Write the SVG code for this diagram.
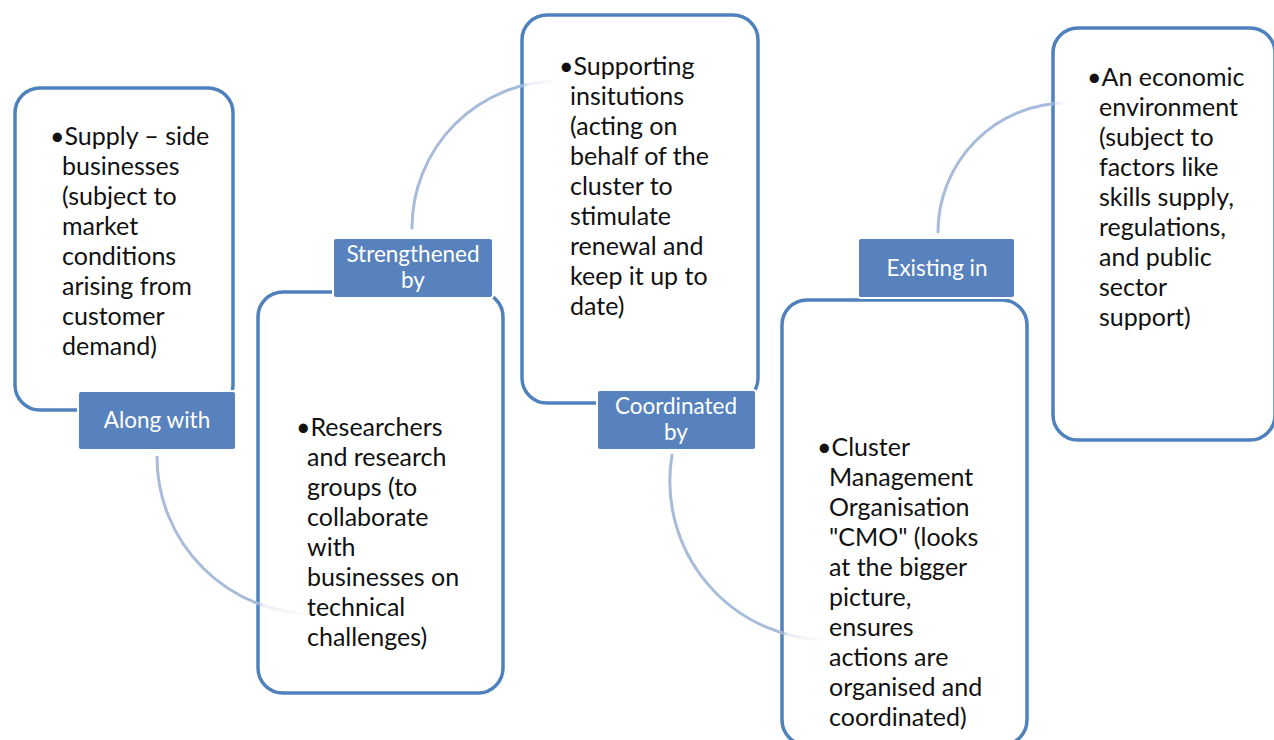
<svg xmlns="http://www.w3.org/2000/svg" width="1274" height="740" viewBox="0 0 1274 740">
  <style>
    .box { fill: #ffffff; stroke: #4f81bd; stroke-width: 3.5; }
    .label { fill: #5882be; stroke: #ffffff; stroke-width: 2; }
    .body { font-family: Lato, "Open Sans", sans-serif; font-size: 25px; fill: #111111; }
    .lbl { font-family: Lato, "Open Sans", sans-serif; font-size: 22.5px; fill: #ffffff; text-anchor: middle; }
    .arc { fill: none; stroke-width: 3; stroke-linecap: round; }
  </style>
  <defs>
    <linearGradient id="fade1" gradientUnits="userSpaceOnUse" x1="157" y1="0" x2="314" y2="0">
      <stop offset="0" stop-color="#a7bbdb" stop-opacity="1"/>
      <stop offset="0.63" stop-color="#a7bbdb" stop-opacity="1"/>
      <stop offset="0.68" stop-color="#a7bbdb" stop-opacity="0.25"/>
      <stop offset="1" stop-color="#a7bbdb" stop-opacity="0"/>
    </linearGradient>
    <linearGradient id="fade2" gradientUnits="userSpaceOnUse" x1="412" y1="0" x2="559" y2="0">
      <stop offset="0" stop-color="#a7bbdb" stop-opacity="1"/>
      <stop offset="0.74" stop-color="#a7bbdb" stop-opacity="1"/>
      <stop offset="0.79" stop-color="#a7bbdb" stop-opacity="0.25"/>
      <stop offset="1" stop-color="#a7bbdb" stop-opacity="0"/>
    </linearGradient>
    <linearGradient id="fade3" gradientUnits="userSpaceOnUse" x1="672" y1="0" x2="829" y2="0">
      <stop offset="0" stop-color="#a7bbdb" stop-opacity="1"/>
      <stop offset="0.69" stop-color="#a7bbdb" stop-opacity="1"/>
      <stop offset="0.74" stop-color="#a7bbdb" stop-opacity="0.25"/>
      <stop offset="1" stop-color="#a7bbdb" stop-opacity="0"/>
    </linearGradient>
    <linearGradient id="fade4" gradientUnits="userSpaceOnUse" x1="938" y1="0" x2="1067" y2="0">
      <stop offset="0" stop-color="#a7bbdb" stop-opacity="1"/>
      <stop offset="0.88" stop-color="#a7bbdb" stop-opacity="1"/>
      <stop offset="0.92" stop-color="#a7bbdb" stop-opacity="0.25"/>
      <stop offset="1" stop-color="#a7bbdb" stop-opacity="0"/>
    </linearGradient>
  </defs>

  <rect width="1274" height="740" fill="#ffffff"/>

  <!-- Supply-side businesses -->
  <g id="node-supply">
    <rect class="box" x="15" y="88" width="218" height="322" rx="25"/>
    <text class="body" x="50" y="145">•Supply – side</text>
    <text class="body" x="62" y="175">businesses</text>
    <text class="body" x="62" y="205">(subject to</text>
    <text class="body" x="62" y="235">market</text>
    <text class="body" x="62" y="265">conditions</text>
    <text class="body" x="62" y="295">arising from</text>
    <text class="body" x="62" y="325">customer</text>
    <text class="body" x="62" y="355">demand)</text>
  </g>
  <g id="label-along">
    <rect class="label" x="78" y="391" width="158" height="59" rx="3"/>
    <text class="lbl" x="157" y="428">Along with</text>
  </g>

  <!-- Researchers -->
  <g id="node-research">
    <rect class="box" x="258" y="292" width="245" height="401" rx="25"/>
    <text class="body" x="296" y="436">•Researchers</text>
    <text class="body" x="307" y="466">and research</text>
    <text class="body" x="307" y="496">groups (to</text>
    <text class="body" x="307" y="526">collaborate</text>
    <text class="body" x="307" y="556">with</text>
    <text class="body" x="307" y="586">businesses on</text>
    <text class="body" x="307" y="616">technical</text>
    <text class="body" x="307" y="646">challenges)</text>
  </g>
  <g id="label-strengthened">
    <rect class="label" x="333" y="238" width="160" height="60" rx="3"/>
    <text class="lbl" x="413" y="262">Strengthened</text>
    <text class="lbl" x="413" y="288">by</text>
  </g>

  <!-- Supporting institutions -->
  <g id="node-supporting">
    <rect class="box" x="522" y="15" width="236" height="388" rx="25"/>
    <text class="body" x="559" y="75">•Supporting</text>
    <text class="body" x="570" y="105">insitutions</text>
    <text class="body" x="570" y="135">(acting on</text>
    <text class="body" x="570" y="165">behalf of the</text>
    <text class="body" x="570" y="195">cluster to</text>
    <text class="body" x="570" y="225">stimulate</text>
    <text class="body" x="570" y="255">renewal and</text>
    <text class="body" x="570" y="285">keep it up to</text>
    <text class="body" x="570" y="315">date)</text>
  </g>
  <g id="label-coordinated">
    <rect class="label" x="597" y="390" width="159" height="60" rx="3"/>
    <text class="lbl" x="676" y="414">Coordinated</text>
    <text class="lbl" x="676" y="440">by</text>
  </g>

  <!-- Cluster Management Organisation -->
  <g id="node-cmo">
    <rect class="box" x="782" y="300" width="245" height="445" rx="25"/>
    <text class="body" x="817" y="456">•Cluster</text>
    <text class="body" x="829" y="486">Management</text>
    <text class="body" x="829" y="516">Organisation</text>
    <text class="body" x="829" y="546">"CMO" (looks</text>
    <text class="body" x="829" y="576">at the bigger</text>
    <text class="body" x="829" y="606">picture,</text>
    <text class="body" x="829" y="636">ensures</text>
    <text class="body" x="829" y="666">actions are</text>
    <text class="body" x="829" y="696">organised and</text>
    <text class="body" x="829" y="726">coordinated)</text>
  </g>
  <g id="label-existing">
    <rect class="label" x="858" y="238" width="157" height="60" rx="3"/>
    <text class="lbl" x="937" y="276">Existing in</text>
  </g>

  <!-- Economic environment -->
  <g id="node-environment">
    <rect class="box" x="1053" y="28" width="222" height="412" rx="25"/>
    <text class="body" x="1087" y="86">•An economic</text>
    <text class="body" x="1099" y="116">environment</text>
    <text class="body" x="1099" y="146">(subject to</text>
    <text class="body" x="1099" y="176">factors like</text>
    <text class="body" x="1099" y="206">skills supply,</text>
    <text class="body" x="1099" y="236">regulations,</text>
    <text class="body" x="1099" y="266">and public</text>
    <text class="body" x="1099" y="296">sector</text>
    <text class="body" x="1099" y="326">support)</text>
  </g>

  <!-- Curved links between the labels and the next block -->
  <g id="connectors">
    <path class="arc" stroke="url(#fade1)" d="M157,457 A157,157 0 0,0 314,614"/>
    <path class="arc" stroke="url(#fade2)" d="M412,228 A147,147 0 0,1 559,81"/>
    <path class="arc" stroke="url(#fade3)" d="M672,455 A159,159 0 0,0 829,640"/>
    <path class="arc" stroke="url(#fade4)" d="M938,232 A129,129 0 0,1 1067,103"/>
  </g>
</svg>
